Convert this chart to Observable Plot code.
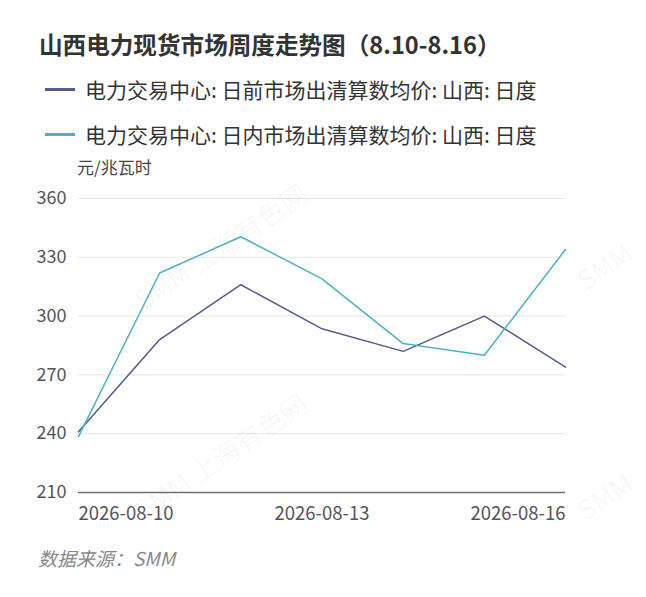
<!DOCTYPE html>
<html><head><meta charset="utf-8">
<script src="https://cdn.jsdelivr.net/npm/d3@7"></script>
<script src="https://cdn.jsdelivr.net/npm/@observablehq/plot@0.6"></script>
<style>
body{margin:0;background:#fff;font-family:"Noto Sans CJK SC","Noto Sans",sans-serif;}
#wrap{position:relative;width:646px;height:597px;overflow:hidden;}
.abs{position:absolute;white-space:nowrap;line-height:1;}
#title{left:39px;top:33px;font-size:23.6px;font-weight:bold;color:#333;}
.leg{left:45px;font-size:21px;color:#333;display:flex;align-items:center;}
.sw{width:30px;height:3px;margin-right:10px;}
#unit{left:77px;top:158px;font-size:17px;color:#444;}
#src{left:38px;top:548px;font-size:19px;font-style:italic;color:#888;}
#chart{left:0;top:180px;}
.wm{position:absolute;color:rgba(0,0,0,0.045);font-size:27px;transform:rotate(-34deg);white-space:nowrap;line-height:1;}
</style></head>
<body>
<div id="wrap">
<div id="title" class="abs">山西电力现货市场周度走势图（8.10-8.16）</div>
<div id="leg1" class="abs leg" style="top:79px"><span class="sw" style="background:#525b8c"></span><span id="l1"></span></div>
<div id="leg2" class="abs leg" style="top:124px"><span class="sw" style="background:#4cb3c4"></span><span id="l2"></span></div>
<div id="unit" class="abs">元/兆瓦时</div>
<div id="chart" class="abs"></div>
<div id="src" class="abs">数据来源：SMM</div>
<div class="wm" style="left:120px;top:232px">SMM 上海有色网</div>
<div class="wm" style="left:120px;top:442px">SMM 上海有色网</div>
<div class="wm" style="left:574px;top:252px">SMM</div>
<div class="wm" style="left:574px;top:482px">SMM</div>
</div>
<script>
const dates = ["2026-08-10","2026-08-11","2026-08-12","2026-08-13","2026-08-14","2026-08-15","2026-08-16"];
const dayAhead = [241, 288, 316, 293.5, 282, 300, 274];
const intraday = [238.5, 322, 340.5, 319, 286, 280, 334];
const seriesNames = ["电力交易中心: 日前市场出清算数均价: 山西: 日度", "电力交易中心: 日内市场出清算数均价: 山西: 日度"];
const seriesColors = ["#525b8c", "#4cb3c4"];
const yTicks = [210, 240, 270, 300, 330, 360];
const xTickLabels = ["2026-08-10", "2026-08-13", "2026-08-16"];

document.getElementById("l1").textContent = seriesNames[0];
document.getElementById("l2").textContent = seriesNames[1];

const parse = d3.utcParse("%Y-%m-%d");
const rows = [];
dates.forEach((d, i) => {
  rows.push({date: parse(d), value: dayAhead[i], series: seriesNames[0]});
  rows.push({date: parse(d), value: intraday[i], series: seriesNames[1]});
});
const xt = xTickLabels.map(parse);
const fmt = d3.utcFormat("%Y-%m-%d");
const axisStyle = {tickSize: 0, tickPadding: 14, fontSize: 18.5, fill: "#555", tickFormat: fmt, label: null};

const chart = Plot.plot({
  width: 646, height: 350,
  marginTop: 18, marginBottom: 38, marginLeft: 78, marginRight: 81,
  style: {fontFamily: '"Noto Sans CJK SC","Noto Sans",sans-serif', background: "transparent", overflow: "visible"},
  x: {type: "utc", domain: [parse(dates[0]), parse(dates[dates.length-1])]},
  y: {domain: [210, 360], ticks: yTicks},
  color: {domain: seriesNames, range: seriesColors},
  marks: [
    Plot.gridY(yTicks.filter(t => t > 210), {stroke: "#e6e6e6", strokeOpacity: 1, strokeWidth: 1}),
    Plot.axisY(yTicks, {tickSize: 0, tickPadding: 12, fontSize: 18, fill: "#555", label: null}),
    Plot.axisX([xt[0]], {...axisStyle, textAnchor: "start"}),
    Plot.axisX([xt[1]], {...axisStyle}),
    Plot.axisX([xt[2]], {...axisStyle, textAnchor: "end"}),
    Plot.ruleY([210], {stroke: "#6e7079", strokeWidth: 1.5}),
    Plot.line(rows, {x: "date", y: "value", z: "series", stroke: "series", strokeWidth: 1.5})
  ]
});
document.getElementById("chart").appendChild(chart);
</script>
</body></html>
